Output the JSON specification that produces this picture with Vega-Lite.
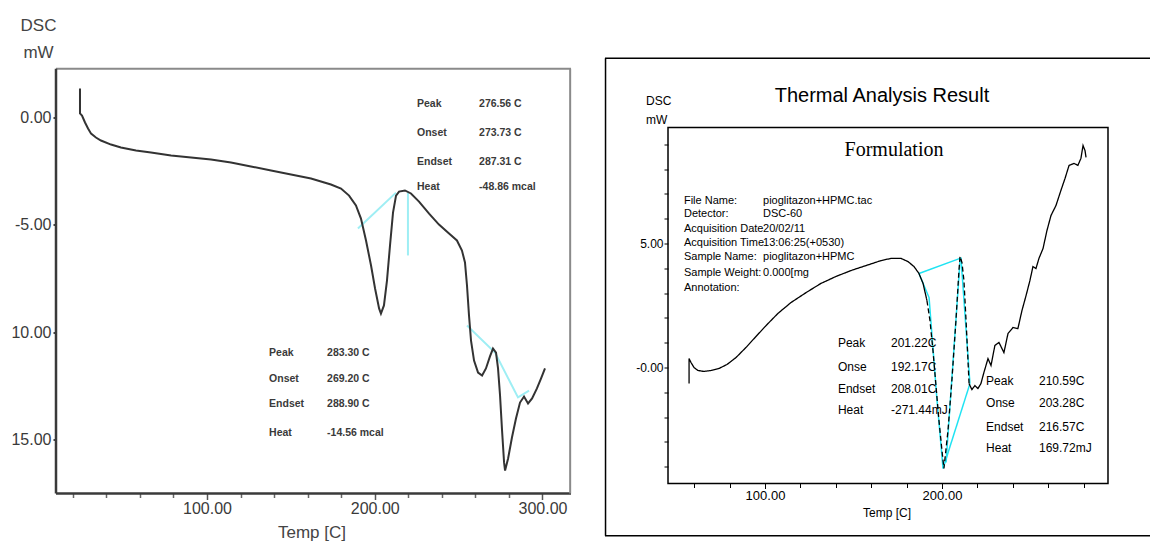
{
  "$schema": "https://vega.github.io/schema/vega-lite/v6.json",
  "background": "white",
  "padding": {"left": 10, "top": 16.5, "right": 0, "bottom": 0},
  "config": {"view": {"stroke": null}, "axis": {"grid": false, "title": null}},
  "bounds": "flush",
  "spacing": 34,
  "datasets": {
    "left": [
      {"i":1,"t":24.3,"v":1.35},{"i":2,"t":24.3,"v":0.19},{"i":3,"t":25.5,"v":0.09},{"i":4,"t":27.3,"v":-0.23},{"i":5,"t":29.1,"v":-0.51},{"i":6,"t":30.9,"v":-0.75},{"i":7,"t":33.8,"v":-0.93},{"i":8,"t":36.8,"v":-1.07},{"i":9,"t":42.8,"v":-1.26},{"i":10,"t":48.7,"v":-1.40},{"i":11,"t":57.7,"v":-1.54},{"i":12,"t":66.6,"v":-1.63},{"i":13,"t":78.6,"v":-1.77},{"i":14,"t":90.5,"v":-1.86},{"i":15,"t":102.4,"v":-1.96},{"i":16,"t":114.3,"v":-2.10},{"i":17,"t":126.2,"v":-2.28},{"i":18,"t":138.2,"v":-2.47},{"i":19,"t":150.1,"v":-2.66},{"i":20,"t":162.0,"v":-2.84},{"i":21,"t":173.9,"v":-3.12},{"i":22,"t":179.9,"v":-3.31},{"i":23,"t":184.7,"v":-3.64},{"i":24,"t":188.8,"v":-4.10},{"i":25,"t":191.8,"v":-4.71},{"i":26,"t":194.8,"v":-5.73},{"i":27,"t":197.8,"v":-6.90},{"i":28,"t":200.2,"v":-7.97},{"i":29,"t":202.6,"v":-8.90},{"i":30,"t":203.7,"v":-9.14},{"i":31,"t":205.5,"v":-8.76},{"i":32,"t":207.3,"v":-7.60},{"i":33,"t":209.1,"v":-5.97},{"i":34,"t":210.9,"v":-4.43},{"i":35,"t":212.7,"v":-3.64},{"i":36,"t":214.5,"v":-3.45},{"i":37,"t":218.0,"v":-3.40},{"i":38,"t":221.6,"v":-3.54},{"i":39,"t":226.4,"v":-3.92},{"i":40,"t":232.4,"v":-4.48},{"i":41,"t":238.3,"v":-4.99},{"i":42,"t":244.3,"v":-5.41},{"i":43,"t":249.0,"v":-5.73},{"i":44,"t":252.0,"v":-6.20},{"i":45,"t":253.8,"v":-6.76},{"i":46,"t":255.0,"v":-7.83},{"i":47,"t":256.2,"v":-9.23},{"i":48,"t":257.4,"v":-10.40},{"i":49,"t":259.2,"v":-11.33},{"i":50,"t":261.6,"v":-11.89},{"i":51,"t":264.0,"v":-12.03},{"i":52,"t":266.3,"v":-11.70},{"i":53,"t":268.7,"v":-11.14},{"i":54,"t":270.5,"v":-10.77},{"i":55,"t":272.3,"v":-10.96},{"i":56,"t":273.5,"v":-11.70},{"i":57,"t":274.7,"v":-12.96},{"i":58,"t":275.9,"v":-14.59},{"i":59,"t":277.1,"v":-16.08},{"i":60,"t":277.7,"v":-16.46},{"i":61,"t":279.5,"v":-15.90},{"i":62,"t":281.8,"v":-14.92},{"i":63,"t":284.2,"v":-14.03},{"i":64,"t":286.6,"v":-13.29},{"i":65,"t":289.0,"v":-13.01},{"i":66,"t":291.4,"v":-13.33},{"i":67,"t":293.8,"v":-13.10},{"i":68,"t":296.7,"v":-12.63},{"i":69,"t":299.1,"v":-12.17},{"i":70,"t":301.5,"v":-11.70}
    ],
    "leftCyan": [
      {"g":"a","i":1,"t":190.0,"v":-5.17},{"g":"a","i":2,"t":212.7,"v":-3.50},
      {"g":"b","i":1,"t":255.0,"v":-9.70},{"g":"b","i":2,"t":271.7,"v":-10.96},{"g":"b","i":3,"t":285.4,"v":-13.05},{"g":"b","i":4,"t":292.0,"v":-12.73},
      {"g":"c","i":1,"t":219.8,"v":-3.50},{"g":"c","i":2,"t":219.8,"v":-6.43}
    ],
    "leftText": [
      {"t":225.2,"v":0.61,"text":"Peak"},{"t":225.2,"v":-0.70,"text":"Onset"},{"t":225.2,"v":-2.05,"text":"Endset"},{"t":225.2,"v":-3.26,"text":"Heat"},
      {"t":262.2,"v":0.61,"text":"276.56 C"},{"t":262.2,"v":-0.70,"text":"273.73 C"},{"t":262.2,"v":-2.05,"text":"287.31 C"},{"t":262.2,"v":-3.26,"text":"-48.86 mcal"},
      {"t":137.0,"v":-10.96,"text":"Peak"},{"t":137.0,"v":-12.17,"text":"Onset"},{"t":137.0,"v":-13.38,"text":"Endset"},{"t":137.0,"v":-14.69,"text":"Heat"},
      {"t":171.6,"v":-10.96,"text":"283.30 C"},{"t":171.6,"v":-12.17,"text":"269.20 C"},{"t":171.6,"v":-13.38,"text":"288.90 C"},{"t":171.6,"v":-14.69,"text":"-14.56 mcal"}
    ],
    "leftLabels": [
      {"t":-0.43,"v":4.29,"text":"DSC"},{"t":-0.43,"v":3.03,"text":"mW"},{"t":162.6,"v":-19.35,"text":"Temp  [C]"}
    ],
    "right": [
      {"i":1,"seg":"s1","t":57.1,"v":-0.65},{"i":2,"seg":"s1","t":57.1,"v":0.36},{"i":3,"seg":"s1","t":58.2,"v":0.20},{"i":4,"seg":"s1","t":59.9,"v":0.00},{"i":5,"seg":"s1","t":62.1,"v":-0.12},{"i":6,"seg":"s1","t":65.5,"v":-0.16},{"i":7,"seg":"s1","t":69.5,"v":-0.12},{"i":8,"seg":"s1","t":74.0,"v":-0.04},{"i":9,"seg":"s1","t":78.5,"v":0.12},{"i":10,"seg":"s1","t":83.6,"v":0.40},{"i":11,"seg":"s1","t":89.3,"v":0.81},{"i":12,"seg":"s1","t":94.9,"v":1.25},{"i":13,"seg":"s1","t":100.6,"v":1.69},{"i":14,"seg":"s1","t":107.3,"v":2.18},{"i":15,"seg":"s1","t":114.7,"v":2.62},{"i":16,"seg":"s1","t":123.2,"v":3.02},{"i":17,"seg":"s1","t":131.6,"v":3.39},{"i":18,"seg":"s1","t":140.1,"v":3.67},{"i":19,"seg":"s1","t":148.6,"v":3.91},{"i":20,"seg":"s1","t":157.1,"v":4.11},{"i":21,"seg":"s1","t":165.5,"v":4.31},{"i":22,"seg":"s1","t":171.2,"v":4.40},{"i":23,"seg":"s1","t":176.8,"v":4.40},{"i":24,"seg":"s1","t":180.8,"v":4.27},{"i":25,"seg":"s1","t":184.2,"v":4.07},{"i":26,"seg":"s1","t":187.0,"v":3.79},{"i":27,"seg":"s1","t":189.3,"v":3.39},{"i":28,"seg":"s1","t":191.5,"v":2.70},
      {"i":29,"seg":"d","t":191.5,"v":2.70},{"i":30,"seg":"d","t":193.2,"v":1.90},{"i":31,"seg":"d","t":194.9,"v":0.69},{"i":32,"seg":"d","t":196.6,"v":-0.73},{"i":33,"seg":"d","t":198.3,"v":-2.14},{"i":34,"seg":"d","t":200.0,"v":-3.35},{"i":35,"seg":"d","t":201.1,"v":-4.07},{"i":36,"seg":"d","t":203.4,"v":-2.54},{"i":37,"seg":"d","t":205.6,"v":-0.52},{"i":38,"seg":"d","t":207.9,"v":1.90},{"i":39,"seg":"d","t":209.6,"v":3.91},{"i":40,"seg":"d","t":210.2,"v":4.48},{"i":41,"seg":"d","t":211.3,"v":4.23},{"i":42,"seg":"d","t":212.4,"v":3.51},{"i":43,"seg":"d","t":213.6,"v":1.90},{"i":44,"seg":"d","t":214.7,"v":0.28},{"i":45,"seg":"d","t":215.3,"v":-0.65},
      {"i":46,"seg":"s2","t":215.3,"v":-0.65},{"i":47,"seg":"s2","t":216.9,"v":-0.89},{"i":48,"seg":"s2","t":218.6,"v":-0.73},{"i":49,"seg":"s2","t":220.3,"v":-0.85},{"i":50,"seg":"s2","t":222.0,"v":-0.65},{"i":51,"seg":"s2","t":223.7,"v":-0.20},{"i":52,"seg":"s2","t":226.0,"v":0.36},{"i":53,"seg":"s2","t":227.7,"v":0.08},{"i":54,"seg":"s2","t":229.9,"v":0.89},{"i":55,"seg":"s2","t":232.2,"v":1.01},{"i":56,"seg":"s2","t":235.0,"v":0.60},{"i":57,"seg":"s2","t":237.3,"v":1.37},{"i":58,"seg":"s2","t":240.1,"v":1.61},{"i":59,"seg":"s2","t":242.9,"v":1.57},{"i":60,"seg":"s2","t":245.2,"v":2.30},{"i":61,"seg":"s2","t":247.5,"v":2.90},{"i":62,"seg":"s2","t":249.7,"v":3.51},{"i":63,"seg":"s2","t":251.4,"v":4.07},{"i":64,"seg":"s2","t":253.1,"v":3.99},{"i":65,"seg":"s2","t":254.8,"v":4.40},{"i":66,"seg":"s2","t":257.1,"v":4.80},{"i":67,"seg":"s2","t":259.3,"v":5.52},{"i":68,"seg":"s2","t":261.6,"v":6.13},{"i":69,"seg":"s2","t":264.4,"v":6.53},{"i":70,"seg":"s2","t":267.2,"v":7.14},{"i":71,"seg":"s2","t":269.5,"v":7.62},{"i":72,"seg":"s2","t":271.8,"v":8.15},{"i":73,"seg":"s2","t":274.6,"v":8.23},{"i":74,"seg":"s2","t":276.8,"v":8.15},{"i":75,"seg":"s2","t":278.5,"v":8.43},{"i":76,"seg":"s2","t":279.7,"v":8.95},{"i":77,"seg":"s2","t":280.8,"v":8.75},{"i":78,"seg":"s2","t":281.4,"v":8.47}
    ],
    "rightCyan": [
      {"g":"a","i":1,"t":187.0,"v":3.79},{"g":"a","i":2,"t":210.2,"v":4.40},
      {"g":"b","i":1,"t":187.0,"v":3.79},{"g":"b","i":2,"t":192.7,"v":2.82},{"g":"b","i":3,"t":197.2,"v":-1.33},{"g":"b","i":4,"t":200.6,"v":-4.07},
      {"g":"c","i":1,"t":210.2,"v":4.30},{"g":"c","i":2,"t":202.3,"v":-3.83},
      {"g":"d","i":1,"t":210.7,"v":4.44},{"g":"d","i":2,"t":215.8,"v":-0.65},
      {"g":"e","i":1,"t":215.8,"v":-0.65},{"g":"e","i":2,"t":200.6,"v":-4.07}
    ],
    "rightInfo": [
      {"t":54.2,"v":6.73,"text":"File Name:"},{"t":54.2,"v":6.17,"text":"Detector:"},{"t":54.2,"v":5.60,"text":"Acquisition Date"},{"t":54.2,"v":5.00,"text":"Acquisition Time"},{"t":54.2,"v":4.44,"text":"Sample Name:"},{"t":54.2,"v":3.83,"text":"Sample Weight:"},{"t":54.2,"v":3.19,"text":"Annotation:"},
      {"t":98.9,"v":6.73,"text":"pioglitazon+HPMC.tac"},{"t":98.9,"v":6.17,"text":"DSC-60"},{"t":98.9,"v":5.60,"text":"20/02/11"},{"t":98.9,"v":5.00,"text":"13:06:25(+0530)"},{"t":98.9,"v":4.44,"text":"pioglitazon+HPMC"},{"t":98.9,"v":3.83,"text":"0.000[mg"}
    ],
    "rightText": [
      {"t":141.2,"v":0.97,"text":"Peak"},{"t":141.2,"v":0.04,"text":"Onse"},{"t":141.2,"v":-0.85,"text":"Endset"},{"t":141.2,"v":-1.73,"text":"Heat"},
      {"t":171.2,"v":0.97,"text":"201.22C"},{"t":171.2,"v":0.04,"text":"192.17C"},{"t":171.2,"v":-0.85,"text":"208.01C"},{"t":171.2,"v":-1.73,"text":"-271.44mJ"},
      {"t":224.9,"v":-0.56,"text":"Peak"},{"t":224.9,"v":-1.45,"text":"Onse"},{"t":224.9,"v":-2.38,"text":"Endset"},{"t":224.9,"v":-3.23,"text":"Heat"},
      {"t":254.8,"v":-0.56,"text":"210.59C"},{"t":254.8,"v":-1.45,"text":"203.28C"},{"t":254.8,"v":-2.38,"text":"216.57C"},{"t":254.8,"v":-3.23,"text":"169.72mJ"},
      {"t":32.8,"v":10.73,"text":"DSC"},{"t":32.8,"v":9.96,"text":"mW"},
      {"t":155.4,"v":-5.85,"text":"Temp  [C]"}
    ],
    "rightTitle": [{"t":166.1,"v":10.93,"text":"Thermal Analysis Result"}],
    "rightSub": [{"t":172.9,"v":8.79,"text":"Formulation"}]
  },
  "hconcat": [
    {
      "width": 515,
      "height": 436,
      "resolve": {"axis": {"x": "independent", "y": "independent"}},
      "layer": [
        {
          "data": {"name": "leftCyan"},
          "mark": {"type": "line", "color": "#9eeef4", "strokeWidth": 2},
          "encoding": {
            "x": {"field": "t", "type": "quantitative", "scale": {"domain": [10, 317], "nice": false, "zero": false},
              "axis": {"orient": "bottom", "values": [100, 200, 300], "format": ".2f", "title": null, "domain": false, "grid": false, "tickSize": 6, "tickColor": "#555555", "tickWidth": 1.5, "labelFont": "Liberation Sans", "labelFontSize": 16, "labelColor": "#3a3a3a", "labelPadding": 1, "labelFlush": false, "labelOverlap": false}},
            "y": {"field": "v", "type": "quantitative", "scale": {"domain": [-17.53, 2.8], "nice": false, "zero": false},
              "axis": {"orient": "left", "values": [0, -5, -10, -15], "labelExpr": "datum.value === -5 ? '-5.00' : format(abs(datum.value), '.2f')", "title": null, "domain": false, "grid": false, "tickSize": 3, "tickColor": "#444444", "tickWidth": 2, "labelFont": "Liberation Sans", "labelFontSize": 16, "labelColor": "#3a3a3a", "labelPadding": 2, "labelFlush": false, "labelOverlap": false}},
            "detail": {"field": "g"},
            "order": {"field": "i"}
          }
        },
        {
          "data": {"values": [{}]},
          "mark": {"type": "rule", "color": "#3a3a3a", "strokeWidth": 2.5},
          "encoding": {
            "x": {"datum": 10, "type": "quantitative",
              "axis": {"orient": "bottom", "values": [20,40,60,80,120,140,160,180,220,240,260,280], "labels": false, "title": null, "domain": false, "grid": false, "tickSize": 4, "tickColor": "#666666", "tickWidth": 1.5}},
            "x2": {"datum": 317},
            "y": {"datum": -17.53, "type": "quantitative", "axis": null}
          }
        },
        {
          "data": {"values": [{}]},
          "mark": {"type": "rule", "color": "#8a8a8a", "strokeWidth": 2},
          "encoding": {
            "x": {"datum": 10, "type": "quantitative", "axis": null},
            "x2": {"datum": 317},
            "y": {"datum": 2.28, "type": "quantitative", "axis": null}
          }
        },
        {
          "data": {"values": [{}]},
          "mark": {"type": "rule", "color": "#8a8a8a", "strokeWidth": 2},
          "encoding": {
            "x": {"datum": 316.5, "type": "quantitative", "axis": null},
            "y": {"datum": -17.53, "type": "quantitative", "axis": null},
            "y2": {"datum": 2.28}
          }
        },
        {
          "data": {"values": [{}]},
          "mark": {"type": "rule", "color": "#3a3a3a", "strokeWidth": 2.5},
          "encoding": {
            "x": {"datum": 10, "type": "quantitative", "axis": null},
            "y": {"datum": -17.53, "type": "quantitative", "axis": null},
            "y2": {"datum": 2.28}
          }
        },
        {
          "data": {"name": "left"},
          "mark": {"type": "line", "color": "#333333", "strokeWidth": 2},
          "encoding": {
            "x": {"field": "t", "type": "quantitative", "axis": null},
            "y": {"field": "v", "type": "quantitative", "axis": null},
            "order": {"field": "i"}
          }
        },
        {
          "data": {"name": "leftText"},
          "mark": {"type": "text", "align": "left", "baseline": "middle", "font": "Liberation Sans", "fontSize": 10.5, "fontWeight": "bold", "color": "#3a3a3a"},
          "encoding": {
            "x": {"field": "t", "type": "quantitative", "axis": null},
            "y": {"field": "v", "type": "quantitative", "axis": null},
            "text": {"field": "text"}
          }
        },
        {
          "data": {"name": "leftLabels"},
          "mark": {"type": "text", "align": "center", "baseline": "middle", "font": "Liberation Sans", "fontSize": 17, "color": "#444444"},
          "encoding": {
            "x": {"field": "t", "type": "quantitative", "axis": null},
            "y": {"field": "v", "type": "quantitative", "axis": null},
            "text": {"field": "text"}
          }
        }
      ]
    },
    {
      "width": 546,
      "height": 479,
      "resolve": {"axis": {"x": "independent", "y": "independent"}},
      "layer": [
        {
          "data": {"name": "rightCyan"},
          "mark": {"type": "line", "color": "#1fe3f2", "strokeWidth": 1.5},
          "encoding": {
            "x": {"field": "t", "type": "quantitative", "scale": {"domain": [9.6, 318.1], "nice": false, "zero": false},
              "axis": {"orient": "bottom", "values": [100, 200], "format": ".2f", "title": null, "domain": false, "grid": false, "offset": -53, "tickSize": 5, "tickColor": "#000000", "labelFont": "Liberation Sans", "labelFontSize": 13, "labelColor": "#000000", "labelPadding": 1, "labelFlush": false, "labelOverlap": false}},
            "y": {"field": "v", "type": "quantitative", "scale": {"domain": [-6.815, 12.5], "nice": false, "zero": false},
              "axis": {"orient": "left", "values": [0, 5], "labelExpr": "datum.value === 0 ? '-0.00' : '5.00'", "title": null, "domain": false, "grid": false, "offset": -63, "tickSize": 4, "tickColor": "#000000", "labelFont": "Liberation Sans", "labelFontSize": 12, "labelColor": "#000000", "labelPadding": 1, "labelFlush": false, "labelOverlap": false}},
            "detail": {"field": "g"},
            "order": {"field": "i"}
          }
        },
        {
          "data": {"values": [{}]},
          "mark": {"type": "rule", "color": "#000000", "strokeWidth": 1.5},
          "encoding": {
            "x": {"datum": 9.6, "type": "quantitative",
              "axis": {"orient": "bottom", "values": [60,80,120,140,160,180,220,240,260,280], "labels": false, "title": null, "domain": false, "grid": false, "offset": -53, "tickSize": 4, "tickColor": "#000000"}},
            "x2": {"datum": 318.1},
            "y": {"datum": 12.47, "type": "quantitative", "axis": null}
          }
        },
        {
          "data": {"values": [{}]},
          "mark": {"type": "rule", "color": "#000000", "strokeWidth": 1.5},
          "encoding": {
            "x": {"datum": 9.9, "type": "quantitative", "axis": null},
            "y": {"datum": -6.78, "type": "quantitative",
              "axis": {"orient": "left", "values": [-4,-3,-2,-1,1,2,3,4,6,7,8,9], "labels": false, "title": null, "domain": false, "grid": false, "offset": -63, "tickSize": 4, "tickColor": "#000000"}},
            "y2": {"datum": 12.47}
          }
        },
        {
          "data": {"values": [{}]},
          "mark": {"type": "rule", "color": "#000000", "strokeWidth": 1.5},
          "encoding": {
            "x": {"datum": 9.6, "type": "quantitative", "axis": null},
            "x2": {"datum": 318.1},
            "y": {"datum": -6.78, "type": "quantitative", "axis": null}
          }
        },
        {
          "data": {"values": [{}]},
          "mark": {"type": "rect", "fill": null, "fillOpacity": 0, "stroke": "#000000", "strokeWidth": 1.5},
          "encoding": {
            "x": {"datum": 45.2, "type": "quantitative", "axis": null},
            "x2": {"datum": 293.8},
            "y": {"datum": -4.68, "type": "quantitative", "axis": null},
            "y2": {"datum": 9.68}
          }
        },
        {
          "data": {"name": "right"},
          "mark": {"type": "line", "color": "#000000", "strokeWidth": 1.3},
          "encoding": {
            "x": {"field": "t", "type": "quantitative", "axis": null},
            "y": {"field": "v", "type": "quantitative", "axis": null},
            "detail": {"field": "seg"},
            "strokeDash": {"field": "seg", "type": "nominal", "scale": {"domain": ["s1", "d", "s2"], "range": [[1, 0], [5, 3], [1, 0]]}, "legend": null},
            "order": {"field": "i"}
          }
        },
        {
          "data": {"name": "rightInfo"},
          "mark": {"type": "text", "align": "left", "baseline": "middle", "font": "Liberation Sans", "fontSize": 11, "color": "#000000"},
          "encoding": {
            "x": {"field": "t", "type": "quantitative", "axis": null},
            "y": {"field": "v", "type": "quantitative", "axis": null},
            "text": {"field": "text"}
          }
        },
        {
          "data": {"name": "rightText"},
          "mark": {"type": "text", "align": "left", "baseline": "middle", "font": "Liberation Sans", "fontSize": 12, "color": "#000000"},
          "encoding": {
            "x": {"field": "t", "type": "quantitative", "axis": null},
            "y": {"field": "v", "type": "quantitative", "axis": null},
            "text": {"field": "text"}
          }
        },
        {
          "data": {"name": "rightTitle"},
          "mark": {"type": "text", "align": "center", "baseline": "middle", "font": "Liberation Sans", "fontSize": 20, "color": "#000000"},
          "encoding": {
            "x": {"field": "t", "type": "quantitative", "axis": null},
            "y": {"field": "v", "type": "quantitative", "axis": null},
            "text": {"field": "text"}
          }
        },
        {
          "data": {"name": "rightSub"},
          "mark": {"type": "text", "align": "center", "baseline": "middle", "font": "Liberation Serif", "fontSize": 20, "color": "#000000"},
          "encoding": {
            "x": {"field": "t", "type": "quantitative", "axis": null},
            "y": {"field": "v", "type": "quantitative", "axis": null},
            "text": {"field": "text"}
          }
        }
      ]
    }
  ]
}
